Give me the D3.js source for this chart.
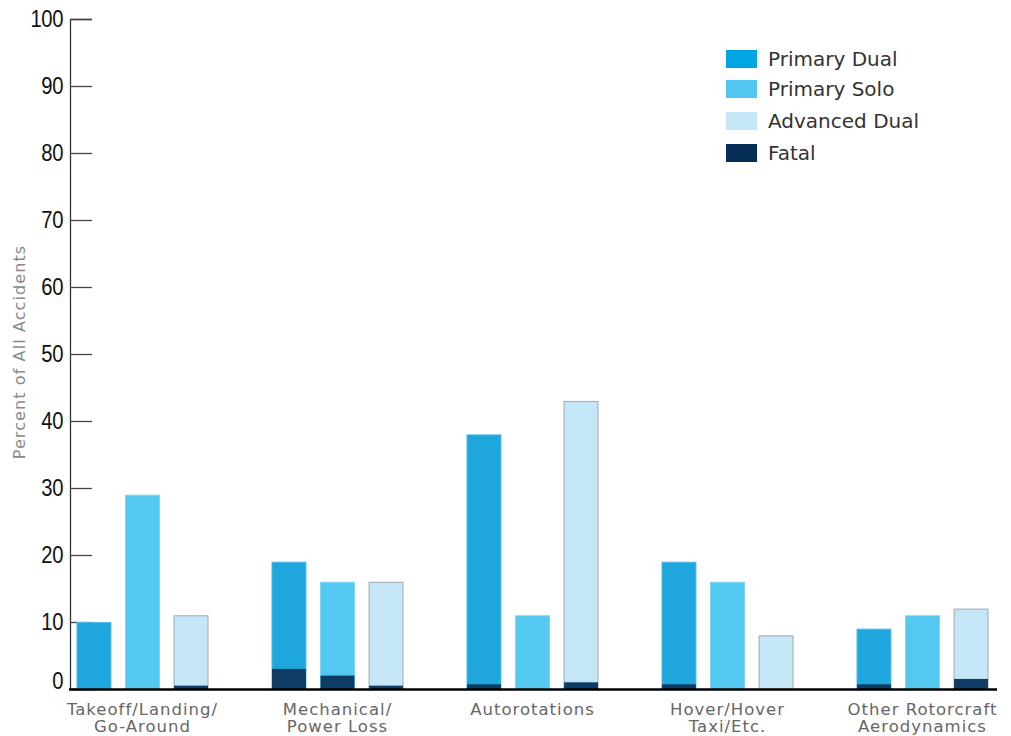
<!DOCTYPE html>
<html>
<head>
<meta charset="utf-8">
<script src="https://cdn.jsdelivr.net/npm/d3@7"></script>
<style>
  html, body { margin: 0; padding: 0; background: #fff; }
  svg { display: block; }
</style>
</head>
<body>
<svg id="chart" width="1011" height="736"></svg>
<script>
// ---- Data ----
const categories = [
  ["Takeoff/Landing/", "Go-Around"],
  ["Mechanical/", "Power Loss"],
  ["Autorotations"],
  ["Hover/Hover", "Taxi/Etc."],
  ["Other Rotorcraft", "Aerodynamics"]
];
const seriesNames = ["Primary Dual", "Primary Solo", "Advanced Dual"];
const primaryDual  = [10, 19, 38, 19, 9];
const primarySolo  = [29, 16, 11, 16, 11];
const advancedDual = [11, 16, 43, 8, 12];
// Fatal portion of each bar (same order as series)
const fatalPrimaryDual  = [0, 3, 0.7, 0.7, 0.7];
const fatalPrimarySolo  = [0, 2, 0, 0, 0];
const fatalAdvancedDual = [0.5, 0.5, 1, 0, 1.5];
const yTicks = [0, 10, 20, 30, 40, 50, 60, 70, 80, 90, 100];
const legendNames = ["Primary Dual", "Primary Solo", "Advanced Dual", "Fatal"];

// ---- Styles ----
const barColors = ["#1fa6dd", "#53c8f1", "#c5e6f7"];
const barStrokes = ["#4db9e6", "#7dd5f4", "#9ea9b1"];
const fatalColor = "#0e3c64";
const legendColors = ["#00a6e2", "#52c5f0", "#c5e7f7", "#062d55"];

const svg = d3.select("#chart");
const values = [primaryDual, primarySolo, advancedDual];
const fatals = [fatalPrimaryDual, fatalPrimarySolo, fatalAdvancedDual];

const catKeys = categories.map((c, i) => i);
const x = d3.scalePoint().domain(catKeys).range([142.5, 922.5]);
const xInner = d3.scaleBand().domain(d3.range(3)).range([-66, 66]).paddingInner(0.28).paddingOuter(0);
const y = d3.scaleLinear().domain([0, 100]).range([689, 19]);

// Y axis
const yAxis = d3.axisRight(y).tickValues(yTicks).tickSize(22).tickFormat("");
const gy = svg.append("g").attr("transform", "translate(70,0)").call(yAxis);
gy.select(".domain").attr("stroke", "#333").attr("stroke-width", 1.3);
gy.selectAll(".tick line").attr("stroke", "#444").attr("stroke-width", 1.3);

// Y tick labels (condensed look)
svg.append("g").selectAll("text").data(yTicks).join("text")
  .attr("transform", d => `translate(63,${d === 0 ? y(d) : y(d) + 8}) scale(0.88,1)`)
  .attr("text-anchor", "end")
  .attr("font-family", "'Liberation Sans', Arial, sans-serif")
  .attr("font-size", 23)
  .attr("letter-spacing", -0.5)
  .attr("fill", "#111")
  .text(d => d);

// Y label
svg.append("text")
  .attr("transform", "translate(25,352) rotate(-90)")
  .attr("text-anchor", "middle")
  .attr("font-family", "'DejaVu Sans', sans-serif")
  .attr("font-size", 16)
  .attr("letter-spacing", 1.1)
  .attr("fill", "#8a8a8a")
  .text("Percent of All Accidents");

// Bars
const groups = svg.append("g").selectAll("g").data(catKeys).join("g")
  .attr("transform", d => `translate(${x(d)},0)`);

groups.each(function(ci) {
  const g = d3.select(this);
  for (let s = 0; s < 3; s++) {
    const v = values[s][ci];
    g.append("rect")
      .attr("x", xInner(s) + 0.5)
      .attr("y", y(v) + 0.5)
      .attr("width", xInner.bandwidth() - 1)
      .attr("height", y(0) - y(v) - 0.5)
      .attr("fill", barColors[s])
      .attr("stroke", barStrokes[s])
      .attr("stroke-width", 1);
    const f = fatals[s][ci];
    if (f > 0) {
      g.append("rect")
        .attr("x", xInner(s) + 0.5)
        .attr("y", y(f))
        .attr("width", xInner.bandwidth() - 1)
        .attr("height", y(0) - y(f))
        .attr("fill", fatalColor);
    }
  }
});

// Baseline
svg.append("line")
  .attr("x1", 69).attr("x2", 997)
  .attr("y1", y(0) + 0.5).attr("y2", y(0) + 0.5)
  .attr("stroke", "#000").attr("stroke-width", 2.6);

// X labels
const xl = svg.append("g").selectAll("text").data(catKeys).join("text")
  .attr("x", d => x(d))
  .attr("y", 715)
  .attr("text-anchor", "middle")
  .attr("font-family", "'DejaVu Sans', sans-serif")
  .attr("font-size", 16.5)
  .attr("letter-spacing", 1)
  .attr("fill", "#666");
xl.each(function(ci) {
  const t = d3.select(this);
  categories[ci].forEach((line, li) => {
    t.append("tspan").attr("x", x(ci)).attr("dy", li === 0 ? 0 : 17).text(line);
  });
});

// Legend
const legend = svg.append("g").attr("transform", "translate(726,50)");
const lg = legend.selectAll("g").data(legendNames).join("g")
  .attr("transform", (d, i) => `translate(0,${[0, 30, 62, 94][i]})`);
lg.append("rect").attr("width", 31).attr("height", 18).attr("fill", (d, i) => legendColors[i]);
lg.append("text")
  .attr("x", 42).attr("y", 16)
  .attr("font-family", "'DejaVu Sans', sans-serif")
  .attr("font-size", 20)
  .attr("fill", "#333")
  .text(d => d);
</script>
</body>
</html>
